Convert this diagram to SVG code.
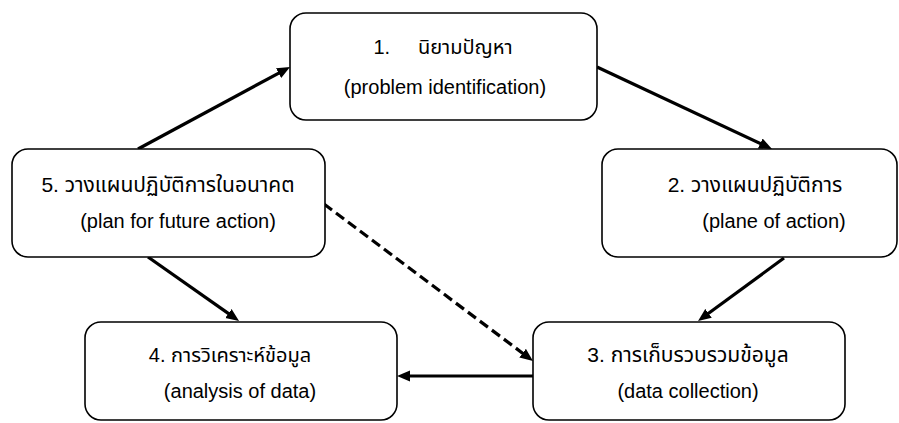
<svg xmlns="http://www.w3.org/2000/svg" width="899" height="423" viewBox="0 0 899 423">
  <style>
    .box { fill: #ffffff; stroke: #000000; stroke-width: 1.6; }
    .lbl { font-family: "Liberation Sans", "Noto Sans Thai", "Noto Sans", sans-serif; font-size: 20px; fill: #000000; text-anchor: middle; }
    .th { font-size: 21px; }
    .conn { stroke: #000000; stroke-width: 3.2; fill: none; marker-end: url(#head); }
    .dash { stroke-dasharray: 10 5; }
  </style>
  <defs>
    <marker id="head" markerUnits="userSpaceOnUse" markerWidth="14" markerHeight="12" refX="5" refY="6" orient="auto">
      <path d="M0,0.5 L13,6 L0,11.5 z" fill="#000000"/>
    </marker>
  </defs>
  <rect width="899" height="423" fill="#ffffff"/>

  <g id="connectors">
    <line class="conn" x1="138" y1="149" x2="283" y2="70.8"/>
    <line class="conn" x1="597" y1="67" x2="764.8" y2="145.6"/>
    <line class="conn" x1="784" y1="258" x2="704.5" y2="316.3"/>
    <line class="conn" x1="148" y1="257" x2="232.5" y2="316.4"/>
    <line class="conn" x1="533" y1="376" x2="405" y2="376"/>
    <line class="conn dash" x1="324" y1="204" x2="526.6" y2="356.2"/>
  </g>

  <g id="node1">
    <rect class="box" x="290" y="13" width="307" height="107" rx="16"/>
    <text class="lbl" x="443" y="54" xml:space="preserve">1.     นิยามปัญหา</text>
    <text class="lbl" x="445" y="94">(problem identification)</text>
  </g>

  <g id="node2">
    <rect class="box" x="602" y="149" width="295" height="108" rx="16"/>
    <text class="lbl th" x="755" y="192">2.  วางแผนปฏิบัติการ</text>
    <text class="lbl" x="774" y="228">(plane of action)</text>
  </g>

  <g id="node3">
    <rect class="box" x="533" y="322" width="312" height="98" rx="16"/>
    <text class="lbl th" x="688" y="362">3.  การเก็บรวบรวมข้อมูล</text>
    <text class="lbl" x="688" y="398">(data collection)</text>
  </g>

  <g id="node4">
    <rect class="box" x="85" y="322" width="312" height="98" rx="16"/>
    <text class="lbl" x="230" y="362">4.  การวิเคราะห์ข้อมูล</text>
    <text class="lbl" x="240" y="398">(analysis of data)</text>
  </g>

  <g id="node5">
    <rect class="box" x="12" y="149" width="313" height="108" rx="16"/>
    <text class="lbl th" x="168" y="192">5.  วางแผนปฏิบัติการในอนาคต</text>
    <text class="lbl" x="178" y="228">(plan for future action)</text>
  </g>
</svg>
